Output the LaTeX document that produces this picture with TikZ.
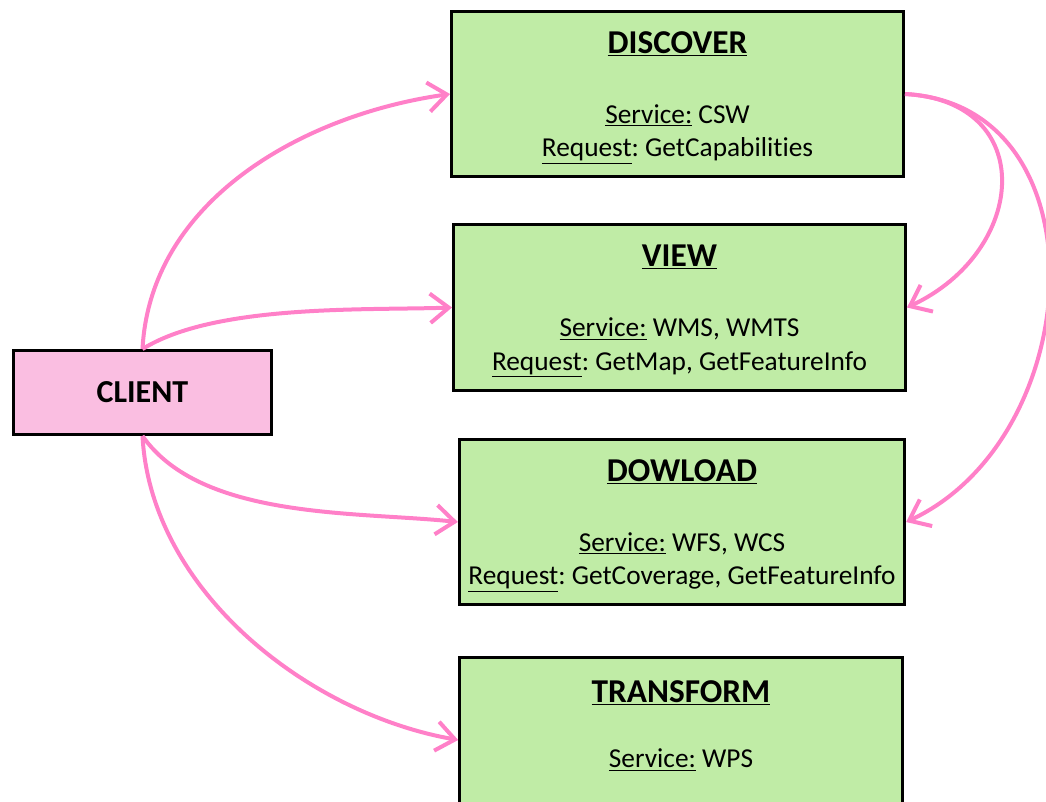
\documentclass[tikz,border=0pt]{standalone}
\usepackage{fontspec}
\setmainfont[Ligatures=NoCommon]{Carlito}
\usetikzlibrary{positioning}
\usetikzlibrary{arrows.meta}
\definecolor{boxgreen}{RGB}{192,236,166}
\definecolor{clientpink}{RGB}{250,190,225}
\definecolor{linkpink}{RGB}{255,128,200}
\tikzset{svc/.style={draw, line width=2.2pt, fill=boxgreen, minimum height=124pt, inner sep=0pt}}
\tikzset{cli/.style={draw, line width=2.2pt, fill=clientpink, minimum width=194pt, minimum height=63pt, font=\fontsize{24}{28}\selectfont\bfseries}}
\tikzset{hd/.style={anchor=base, inner sep=0pt, font=\fontsize{25}{30}\selectfont\bfseries}}
\tikzset{ln/.style={anchor=base, inner sep=0pt, font=\fontsize{20.5}{25}\selectfont}}
\tikzset{link/.style={draw=linkpink, line width=3pt, -{Straight Barb[length=14pt,width=22pt]}}}
\frenchspacing

\begin{document}
\begin{tikzpicture}[x=0.75pt,y=0.75pt]
    \clip (0,0) rectangle (1046,-801);

    \node[cli] (client) at (142.5,-392.5) {CLIENT};

    \node[svc, minimum width=339pt] (discover) at (677.5,-94) {};
    \node[svc, minimum width=339pt] (view) at (679.5,-307.5) {};
    \node[svc, minimum width=334pt] (dowload) at (682,-522) {};
    \node[svc, minimum width=332pt] (transform) at (681,-740) {};

    % titles and service lines
    \node[hd] (discoverh) at ([yshift=-32.5pt]discover.north) {\underline{DISCOVER}};
    \node[ln] (discovers) at ([yshift=-85pt]discover.north) {\underline{Service:} CSW};
    \node[ln] (discoverr) at ([yshift=-110pt]discover.north) {\underline{Request}: GetCapabilities};

    \node[hd] (viewh) at ([yshift=-32.5pt]view.north) {\underline{VIEW}};
    \node[ln] (views) at ([yshift=-85pt]view.north) {\underline{Service:} WMS, WMTS};
    \node[ln] (viewr) at ([yshift=-110pt]view.north) {\underline{Request}: GetMap, GetFeatureInfo};

    \node[hd] (dowloadh) at ([yshift=-32.5pt]dowload.north) {\underline{DOWLOAD}};
    \node[ln] (dowloads) at ([yshift=-85pt]dowload.north) {\underline{Service:} WFS, WCS};
    \node[ln] (dowloadr) at ([yshift=-110pt]dowload.north) {\underline{Request}: GetCoverage, GetFeatureInfo};

    \node[hd] (transformh) at ([yshift=-35pt]transform.north) {\underline{TRANSFORM}};
    \node[ln] (transforms) at ([yshift=-84pt]transform.north) {\underline{Service:} WPS};

    % client links
    \draw[link] (client.north) to[out=87, in=188, looseness=0.95] (discover.west);
    \draw[link] (client.north) to[out=32, in=182, looseness=0.7] (view.west);
    \draw[link] (client.south) to[out=-55, in=174, looseness=0.8] (dowload.west);
    \draw[link] (client.south) to[out=-87, in=170, looseness=0.9] (transform.west);

    % discover links
    \draw[link] (discover.east) to[out=-3, in=25, looseness=1.6] (view.east);
    \draw[link] (discover.east) to[out=-3, in=25, looseness=1.2] (dowload.east);
\end{tikzpicture}
\end{document}
